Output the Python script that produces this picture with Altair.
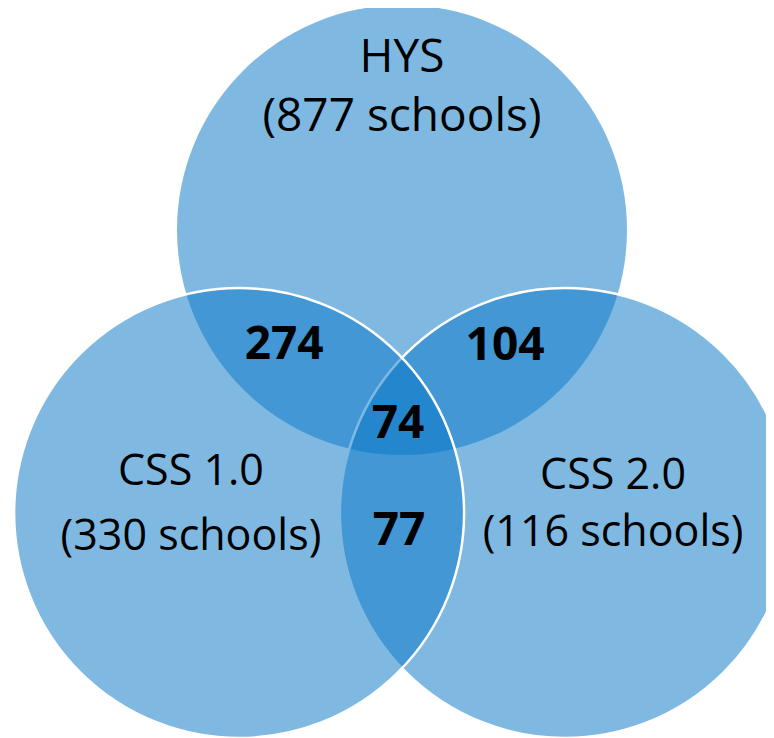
import math
import altair as alt
import pandas as pd

# ---- data ----
set_names = ["HYS", "CSS 1.0", "CSS 2.0"]
set_counts = [877, 330, 116]
overlap_names = ["HYS & CSS 1.0", "HYS & CSS 2.0", "HYS & CSS 1.0 & CSS 2.0", "CSS 1.0 & CSS 2.0"]
overlap_counts = [274, 104, 74, 77]

# ---- layout (units = circle radius) ----
PX = 225.0            # pixels per unit (radius in px)
W, H = 758, 730       # view size
ORIGIN = (394, 222)   # HYS centre inside the view, px
centers = {"HYS": (0.0, 0.0), "CSS 1.0": (-0.724, 1.258), "CSS 2.0": (0.724, 1.258)}
name_pos = {"HYS": (0.0, -0.702, -0.440),
            "CSS 1.0": (-0.938, 1.133, 1.422),
            "CSS 2.0": (0.938, 1.151, 1.404)}
name_size = {"HYS": 46, "CSS 1.0": 43, "CSS 2.0": 43}
overlap_pos = [(-0.524, 0.573), (0.458, 0.578), (-0.018, 0.924), (-0.013, 1.40)]

FILL = "#0A79C8"
ALPHA = 0.523
FONT = "Open Sans"
FS = 46

xdom = [-ORIGIN[0] / PX, (W - ORIGIN[0]) / PX]
ydom = [-ORIGIN[1] / PX, (H - ORIGIN[1]) / PX]
xs = alt.Scale(domain=xdom, nice=False, zero=False)
ys = alt.Scale(domain=ydom, nice=False, zero=False, reverse=True)
sym_size = (2 * PX) ** 2   # vega circle: radius = sqrt(size) / 2

# circles, drawn in order HYS, CSS 2.0, CSS 1.0
order = ["HYS", "CSS 2.0", "CSS 1.0"]
circ = pd.DataFrame({
    "set": order,
    "x": [centers[s][0] for s in order],
    "y": [centers[s][1] for s in order],
    "stroked": [0, 1, 1],
})

base_c = alt.Chart(circ)
hys = base_c.transform_filter("datum.stroked == 0").mark_circle(
    fill=FILL, fillOpacity=ALPHA, strokeWidth=0, opacity=1
).encode(x=alt.X("x:Q", scale=xs, axis=None), y=alt.Y("y:Q", scale=ys, axis=None),
         size=alt.value(sym_size))
css = base_c.transform_filter("datum.stroked == 1").mark_circle(
    fill=FILL, fillOpacity=ALPHA, stroke="white", strokeWidth=2.5, strokeOpacity=1, opacity=1
).encode(x=alt.X("x:Q", scale=xs, axis=None), y=alt.Y("y:Q", scale=ys, axis=None),
         size=alt.value(sym_size))

# set labels
rows = []
for n, c in zip(set_names, set_counts):
    px, y1, y2 = name_pos[n]
    rows.append({"text": n, "x": px, "y": y1, "fs": name_size[n]})
    rows.append({"text": f"({c} schools)", "x": px, "y": y2, "fs": name_size[n]})
names_df = pd.DataFrame(rows)
name_text = alt.Chart(names_df).mark_text(
    font=FONT, color="black", align="center", baseline="alphabetic"
).encode(x=alt.X("x:Q", scale=xs, axis=None), y=alt.Y("y:Q", scale=ys, axis=None),
         text="text:N", size=alt.Size("fs:Q", scale=None, legend=None))

ov_df = pd.DataFrame({
    "region": overlap_names,
    "count": overlap_counts,
    "x": [p[0] for p in overlap_pos],
    "y": [p[1] for p in overlap_pos],
})
ov_text = alt.Chart(ov_df).mark_text(
    font=FONT, fontSize=FS, fontWeight="bold", color="black", align="center", baseline="alphabetic"
).encode(x=alt.X("x:Q", scale=xs, axis=None), y=alt.Y("y:Q", scale=ys, axis=None), text="count:Q")

chart = alt.layer(hys, css, name_text, ov_text).properties(
    width=W, height=H, padding=0, autosize=alt.AutoSizeParams(type="none"), background="white"
).configure_view(stroke=None)

chart.save("out.html", embed_options={"renderer": "svg", "actions": False})
